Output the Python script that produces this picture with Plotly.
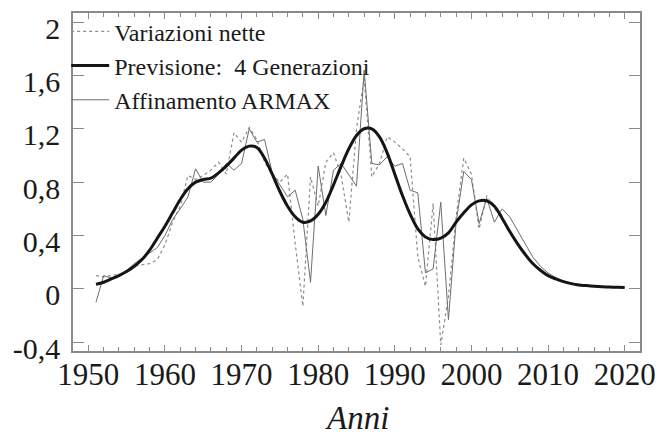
import plotly.graph_objects as go

years = list(range(1951, 2021))

previsione = [0.035, 0.05, 0.075, 0.10, 0.13, 0.17, 0.22, 0.29, 0.38, 0.47,
              0.57, 0.67, 0.75, 0.80, 0.82, 0.83, 0.87, 0.92, 0.98, 1.04,
              1.07, 1.06, 0.98, 0.86, 0.73, 0.62, 0.54, 0.50, 0.51, 0.56,
              0.65, 0.78, 0.92, 1.05, 1.15, 1.20, 1.20, 1.14, 1.02, 0.86,
              0.70, 0.56, 0.45, 0.39, 0.37, 0.38, 0.42, 0.50, 0.57, 0.63,
              0.66, 0.66, 0.62, 0.53, 0.43, 0.34, 0.26, 0.19, 0.14, 0.10,
              0.075, 0.055, 0.04, 0.03, 0.025, 0.02, 0.016, 0.014, 0.012, 0.011]

armax = [-0.10, 0.10, 0.08, 0.10, 0.14, 0.19, 0.23, 0.27, 0.31, 0.40,
         0.52, 0.60, 0.69, 0.90, 0.80, 0.80, 0.86, 0.94, 0.89, 0.94,
         1.20, 1.10, 1.12, 0.87, 0.78, 0.69, 0.74, 0.52, 0.05, 0.92,
         0.55, 0.89, 0.94, 0.85, 0.77, 1.64, 0.94, 0.93, 0.99, 0.92,
         0.94, 0.74, 0.72, 0.12, 0.15, 0.65, -0.23, 0.50, 0.88, 0.82,
         0.49, 0.68, 0.50, 0.60, 0.54, 0.44, 0.34, 0.24, 0.17, 0.12,
         0.085, 0.06, 0.045, 0.033, 0.025, 0.02, 0.016, 0.014, 0.012, 0.011]

anni_var = list(range(1951, 2005))
variazioni = [0.10, 0.09, 0.10, 0.11, 0.13, 0.17, 0.18, 0.19, 0.22, 0.33,
              0.50, 0.62, 0.85, 0.82, 0.85, 0.89, 0.95, 0.86, 1.17, 1.10,
              1.21, 1.12, 0.95, 0.86, 0.80, 0.86, 0.34, -0.13, 0.84, 0.62,
              0.95, 1.02, 0.85, 0.50, 1.20, 1.58, 0.84, 0.94, 1.14, 1.10,
              1.05, 0.99, 0.24, 0.02, 0.64, -0.42, -0.06, 0.54, 0.98, 0.86,
              0.45, 0.70, 0.60, 0.55]

y_tickvals = [-0.4, 0, 0.4, 0.8, 1.2, 1.6, 2]
y_ticktext = ["-0,4", "0", "0,4", "0,8", "1,2", "1,6", "2"]
x_tickvals = [1950, 1960, 1970, 1980, 1990, 2000, 2010, 2020]
x_title = "Anni"

FONT = "Liberation Serif, Times New Roman, serif"
AXC = "#8a8a8a"

fig = go.Figure()
fig.add_trace(go.Scatter(x=anni_var, y=variazioni, mode="lines",
                         name="Variazioni nette", legendrank=1,
                         line=dict(color="#8c8c8c", width=1.2, dash="dot")))
fig.add_trace(go.Scatter(x=years, y=armax, mode="lines",
                         name="Affinamento ARMAX", legendrank=3,
                         line=dict(color="#6e6e6e", width=1)))
fig.add_trace(go.Scatter(x=years, y=previsione, mode="lines",
                         name="Previsione:\u00a0 4 Generazioni", legendrank=2,
                         line=dict(color="#151515", width=3, shape="spline")))

fig.add_annotation(text="<i>" + x_title + "</i>", xref="paper", yref="paper",
                   x=0.5, y=0, xanchor="center", yanchor="top", yshift=-47,
                   showarrow=False,
                   font=dict(family=FONT, size=33, color="#1a1a1a"))

fig.update_layout(
    template="none",
    width=658, height=432,
    margin=dict(l=73, r=18, t=13, b=81, pad=0, autoexpand=False),
    paper_bgcolor="white", plot_bgcolor="white",
    font=dict(family=FONT, color="#1a1a1a"),
    showlegend=True,
    legend=dict(x=-0.012, y=1.011, xanchor="left", yanchor="top",
                bgcolor="rgba(0,0,0,0)", borderwidth=0,
                font=dict(family=FONT, size=24, color="#1a1a1a"),
                itemwidth=38, tracegroupgap=0),
    xaxis=dict(range=[1948, 2022], tickvals=x_tickvals, automargin=False,
               ticks="inside", ticklen=6, tickcolor=AXC, tickwidth=1,
               minor=dict(dtick=2, tick0=1950, ticks="inside", ticklen=4,
                          tickcolor=AXC, tickwidth=1, showgrid=False),
               showline=True, linecolor=AXC, linewidth=1.5, mirror="ticks",
               showgrid=False, zeroline=False, ticklabelstandoff=-5,
               tickfont=dict(family=FONT, size=31, color="#1a1a1a")),
    yaxis=dict(range=[-0.465, 2.0675], tickvals=y_tickvals, ticktext=y_ticktext,
               automargin=False,
               ticks="inside", ticklen=11, tickcolor=AXC, tickwidth=1,
               showline=True, linecolor=AXC, linewidth=1.5, mirror="ticks",
               showgrid=False, zeroline=False, ticklabelstandoff=5,
               ticklabelshift=6, ticklabeloverflow="allow",
               tickfont=dict(family=FONT, size=30, color="#1a1a1a")),
)

fig.write_html("out.html", config={"displayModeBar": False},
               post_script="document.body.style.margin='0';document.body.style.overflow='hidden';")
